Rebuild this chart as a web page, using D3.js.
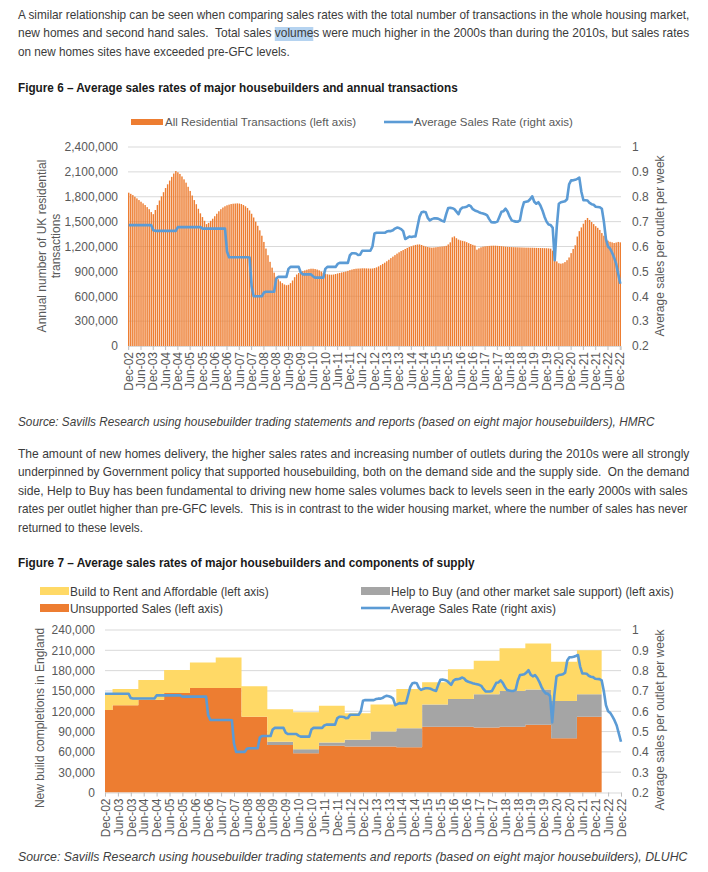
<!DOCTYPE html>
<html>
<head>
<meta charset="utf-8">
<script src="https://cdn.jsdelivr.net/npm/d3@7"></script>
<style>
  body { margin: 0; background: #fff; }
  svg text { font-family: "Liberation Sans", Arial, sans-serif; white-space: pre; }
</style>
</head>
<body>
<div id="page"></div>
<script>
// ---- data ----
var tickLabels = ["Dec-02","Jun-03","Dec-03","Jun-04","Dec-04","Jun-05","Dec-05","Jun-06","Dec-06","Jun-07",
  "Dec-07","Jun-08","Dec-08","Jun-09","Dec-09","Jun-10","Dec-10","Jun-11","Dec-11","Jun-12",
  "Dec-12","Jun-13","Dec-13","Jun-14","Dec-14","Jun-15","Dec-15","Jun-16","Dec-16","Jun-17",
  "Dec-17","Jun-18","Dec-18","Jun-19","Dec-19","Jun-20","Dec-20","Jun-21","Dec-21","Jun-22","Dec-22"];

// annual residential transactions (thousands), monthly Dec-02 .. Dec-22
var transactions = [1849,
  1835,1820,1800,1780,1760,1740,1720,1700,1675,1650,1615,1590,
  1640,1700,1755,1805,1855,1905,1950,1995,2040,2080,2110,2095,
  2075,2045,2010,1970,1920,1870,1815,1760,1710,1655,1600,1555,
  1510,1470,1485,1510,1535,1565,1595,1625,1650,1670,1685,1697,
  1705,1712,1716,1718,1720,1718,1712,1700,1685,1665,1635,1595,
  1550,1500,1450,1395,1330,1255,1175,1095,1015,945,885,835,
  805,780,758,742,733,738,758,790,830,862,880,893,
  903,912,920,927,932,932,928,922,912,898,884,872,
  865,861,860,862,868,875,881,887,892,898,906,915,
  922,928,932,934,935,937,937,936,935,934,935,940,
  948,960,975,990,1005,1022,1040,1060,1078,1096,1114,1130,
  1145,1157,1170,1183,1194,1203,1212,1219,1224,1225,1218,1208,
  1200,1194,1189,1186,1188,1191,1194,1197,1200,1203,1208,1225,
  1250,1310,1322,1300,1283,1274,1268,1262,1252,1240,1230,1220,
  1212,1162,1178,1190,1198,1202,1205,1207,1209,1210,1210,1208,
  1206,1204,1201,1198,1196,1194,1193,1192,1191,1190,1189,1188,
  1187,1186,1186,1185,1185,1184,1183,1182,1182,1181,1180,1179,
  1177,1174,1150,1060,1020,998,993,998,1012,1035,1068,1120,
  1170,1215,1320,1385,1430,1475,1520,1544,1520,1495,1470,1445,
  1425,1400,1362,1330,1290,1270,1257,1250,1242,1248,1255,1250];

// average sales per outlet per week, monthly Dec-02 .. Dec-22
var salesRate = [0.686,
  0.686,0.686,0.686,0.686,0.686,0.686,0.686,0.686,0.686,0.686,0.686,0.665,
  0.663,0.663,0.663,0.663,0.663,0.663,0.663,0.663,0.663,0.663,0.663,0.678,
  0.678,0.678,0.678,0.678,0.678,0.678,0.678,0.678,0.678,0.678,0.678,0.672,
  0.672,0.672,0.672,0.672,0.672,0.672,0.672,0.672,0.672,0.672,0.672,0.58,
  0.557,0.557,0.557,0.557,0.557,0.557,0.557,0.557,0.557,0.557,0.556,0.44,
  0.40,0.40,0.40,0.40,0.40,0.415,0.418,0.418,0.418,0.418,0.418,0.47,
  0.478,0.478,0.478,0.478,0.478,0.51,0.518,0.518,0.518,0.518,0.518,0.495,
  0.488,0.488,0.488,0.488,0.488,0.48,0.475,0.475,0.475,0.475,0.475,0.51,
  0.518,0.518,0.518,0.518,0.518,0.53,0.534,0.534,0.534,0.534,0.534,0.565,
  0.573,0.573,0.572,0.566,0.567,0.583,0.583,0.583,0.583,0.583,0.6,0.652,
  0.655,0.655,0.655,0.655,0.655,0.66,0.662,0.662,0.665,0.672,0.676,0.674,
  0.67,0.662,0.63,0.635,0.64,0.638,0.64,0.64,0.68,0.72,0.738,0.74,
  0.738,0.715,0.705,0.71,0.713,0.713,0.712,0.708,0.703,0.7,0.73,0.755,
  0.756,0.754,0.75,0.74,0.73,0.75,0.757,0.758,0.76,0.766,0.762,0.75,
  0.745,0.742,0.738,0.735,0.733,0.73,0.725,0.71,0.698,0.697,0.697,0.7,
  0.72,0.74,0.742,0.752,0.74,0.72,0.705,0.702,0.7,0.7,0.705,0.75,
  0.778,0.78,0.782,0.79,0.802,0.78,0.772,0.778,0.765,0.745,0.72,0.7,
  0.688,0.686,0.675,0.545,0.68,0.772,0.778,0.78,0.782,0.79,0.85,0.866,
  0.866,0.868,0.872,0.877,0.82,0.786,0.786,0.785,0.775,0.77,0.768,0.76,
  0.759,0.758,0.752,0.7,0.63,0.6,0.592,0.575,0.555,0.53,0.49,0.45];

// new build completions in England by financial year (thousands)
var fyLabels = ["2002/03","2003/04","2004/05","2005/06","2006/07","2007/08","2008/09","2009/10","2010/11","2011/12",
  "2012/13","2013/14","2014/15","2015/16","2016/17","2017/18","2018/19","2019/20","2020/21","2021/22"];
var unsupported = [122,129,137,147,154.5,154.5,112,70,58,69,68,68,67,97,97,96,97,100,80,112];
var helpToBuy   = [0,0,0,0,0,0,0,5,6,5,10,22,28,33,41,49,53,52,55,33];
var buildToRent = [25,24,29,34,37.5,45,45,48,54.5,54,39,40,58,33,44,49.5,63,68,58,65];

var leftTicks1 = [0,300000,600000,900000,1200000,1500000,1800000,2100000,2400000];
var leftTicks2 = [0,30000,60000,90000,120000,150000,180000,210000,240000];
var rateTicks = [0.2,0.3,0.4,0.5,0.6,0.7,0.8,0.9,1];

var para1 = [
  "A similar relationship can be seen when comparing sales rates with the total number of transactions in the whole housing market,",
  "new homes and second hand sales.  Total sales volumes were much higher in the 2000s than during the 2010s, but sales rates",
  "on new homes sites have exceeded pre-GFC levels."];
var para2 = [
  "The amount of new homes delivery, the higher sales rates and increasing number of outlets during the 2010s were all strongly",
  "underpinned by Government policy that supported housebuilding, both on the demand side and the supply side.  On the demand",
  "side, Help to Buy has been fundamental to driving new home sales volumes back to levels seen in the early 2000s with sales",
  "rates per outlet higher than pre-GFC levels.  This is in contrast to the wider housing market, where the number of sales has never",
  "returned to these levels."];

var ORANGE = "#ED7D31", BLUE = "#5B9BD5", GREY = "#A5A5A5", YELLOW = "#FFD966";
var AXIS = "#595959", GRID = "#D9D9D9", BODY = "#3b3b3b";

var svg = d3.select("#page").append("svg").attr("width", 708).attr("height", 872);
svg.append("rect").attr("width", 708).attr("height", 872).attr("fill", "#fff");

var hl = svg.append("g");

// text squeezed horizontally to a given width (the document font is narrow)
function line(x, y, str, width, opt) {
  opt = opt || {};
  var t = svg.append("text").attr("x", 0).attr("y", 0).text(str)
    .attr("font-size", opt.size || 12.5)
    .attr("fill", opt.fill || BODY);
  if (opt.weight) t.attr("font-weight", opt.weight);
  if (opt.italic) t.attr("font-style", "italic");
  var sx = width ? width / t.node().getComputedTextLength() : 1;
  t.attr("transform", "translate(" + x + "," + y + ") scale(" + sx + ",1)");
  t.sx = sx;
  return t;
}

// ---- text blocks ----
var p1w = [672, 672, 272];
var p1 = para1.map(function (s, i) { return line(18, 18.5 + i * 18.5, s, p1w[i]); });

// highlight on "volume"
var n2 = p1[1].node();
var k = para1[1].indexOf("volume");
var hx0 = 18 + n2.getStartPositionOfChar(k).x * p1[1].sx;
var hx1 = 18 + n2.getEndPositionOfChar(k + 5).x * p1[1].sx;
hl.append("rect").attr("x", hx0).attr("y", 27).attr("width", hx1 - hx0).attr("height", 14).attr("fill", "#b5d3f0");

line(18, 92, "Figure 6 \u2013 Average sales rates of major housebuilders and annual transactions", 440,
  { weight: "bold", fill: "#1a1a1a" });
line(18, 426, "Source: Savills Research using housebuilder trading statements and reports (based on eight major housebuilders), HMRC", 637,
  { italic: true, fill: "#404040" });

var p2w = [672, 672, 670, 670, 125];
para2.forEach(function (s, i) { line(18, 457.5 + i * 18.5, s, p2w[i]); });

line(18, 567, "Figure 7 \u2013 Average sales rates of major housebuilders and components of supply", 457,
  { weight: "bold", fill: "#1a1a1a" });
line(18, 861, "Source: Savills Research using housebuilder trading statements and reports (based on eight major housebuilders), DLUHC", 670,
  { italic: true, fill: "#404040" });

function fmtRate(d) { return d === 1 ? "1" : d.toFixed(1); }

function styleAxis(g) {
  g.selectAll("text").attr("fill", AXIS).attr("font-size", 12)
    .attr("font-family", "'Liberation Sans', Arial, sans-serif");
}

function xLabels(g) {
  g.select(".domain").attr("stroke", GRID);
  g.selectAll(".tick line").attr("stroke", "#BFBFBF");
  g.selectAll(".tick text")
    .attr("transform", "rotate(-90)")
    .attr("x", -6).attr("y", 0).attr("dy", "0.35em")
    .style("text-anchor", "end");
  styleAxis(g);
}

// ---- Figure 6 ----
var c1 = { left: 128, right: 621, top: 147, bottom: 346 };
var x1 = d3.scaleBand().domain(d3.range(transactions.length)).range([c1.left, c1.right]).paddingInner(0.3);
var y1L = d3.scaleLinear().domain([0, 2400000]).range([c1.bottom, c1.top]);
var y1R = d3.scaleLinear().domain([0.2, 1]).range([c1.bottom, c1.top]);

svg.append("g").selectAll("line").data(leftTicks1.slice(1)).enter().append("line")
  .attr("x1", c1.left).attr("x2", c1.right)
  .attr("y1", function (d) { return y1L(d); }).attr("y2", function (d) { return y1L(d); })
  .attr("stroke", GRID);

svg.append("g").selectAll("rect").data(transactions).enter().append("rect")
  .attr("x", function (d, i) { return x1(i); })
  .attr("y", function (d) { return y1L(d * 1000); })
  .attr("width", x1.bandwidth())
  .attr("height", function (d) { return c1.bottom - y1L(d * 1000); })
  .attr("fill", ORANGE);

svg.append("path").datum(salesRate)
  .attr("d", d3.line().x(function (d, i) { return x1(i) + x1.bandwidth() / 2; }).y(function (d) { return y1R(d); }))
  .attr("fill", "none").attr("stroke", BLUE).attr("stroke-width", 2.6).attr("stroke-linejoin", "round");

var gl1 = svg.append("g").attr("transform", "translate(" + c1.left + ",0)")
  .call(d3.axisLeft(y1L).tickValues(leftTicks1).tickSize(0).tickPadding(10).tickFormat(d3.format(",")));
gl1.select(".domain").remove(); styleAxis(gl1);

var gr1 = svg.append("g").attr("transform", "translate(" + c1.right + ",0)")
  .call(d3.axisRight(y1R).tickValues(rateTicks).tickSize(0).tickPadding(11).tickFormat(fmtRate));
gr1.select(".domain").remove(); styleAxis(gr1);

var gb1 = svg.append("g").attr("transform", "translate(0," + c1.bottom + ")")
  .call(d3.axisBottom(x1).tickValues(d3.range(0, transactions.length, 6)).tickSize(4)
    .tickFormat(function (d) { return tickLabels[d / 6]; }));
xLabels(gb1);

svg.append("text").attr("transform", "translate(46,246) rotate(-90)").attr("text-anchor", "middle")
  .attr("font-size", 12).attr("fill", AXIS).text("Annual number of UK residential");
svg.append("text").attr("transform", "translate(60,246) rotate(-90)").attr("text-anchor", "middle")
  .attr("font-size", 12).attr("fill", AXIS).text("transactions");
svg.append("text").attr("transform", "translate(664,246) rotate(-90)").attr("text-anchor", "middle")
  .attr("font-size", 12).attr("fill", AXIS).text("Average sales per outlet per week");

// legend 1
svg.append("rect").attr("x", 131).attr("y", 119).attr("width", 32).attr("height", 6).attr("fill", ORANGE);
svg.append("text").attr("x", 165).attr("y", 126).attr("font-size", 11.5).attr("fill", AXIS)
  .text("All Residential Transactions (left axis)");
svg.append("line").attr("x1", 384).attr("x2", 413).attr("y1", 122).attr("y2", 122)
  .attr("stroke", BLUE).attr("stroke-width", 2.6);
svg.append("text").attr("x", 414).attr("y", 126).attr("font-size", 11.5).attr("fill", AXIS)
  .text("Average Sales Rate (right axis)");

// ---- Figure 7 ----
var c2 = { left: 105, right: 621, top: 630, bottom: 792.5 };
var x2 = d3.scaleLinear().domain([0, salesRate.length - 1]).range([c2.left, c2.right]);
var y2L = d3.scaleLinear().domain([0, 240000]).range([c2.bottom, c2.top]);
var y2R = d3.scaleLinear().domain([0.2, 1]).range([c2.bottom, c2.top]);

svg.append("g").selectAll("line").data(leftTicks2.slice(1)).enter().append("line")
  .attr("x1", c2.left).attr("x2", c2.right)
  .attr("y1", function (d) { return y2L(d); }).attr("y2", function (d) { return y2L(d); })
  .attr("stroke", GRID);

var fyRows = fyLabels.map(function (f, i) {
  return { fy: f, unsupported: unsupported[i], helpToBuy: helpToBuy[i], buildToRent: buildToRent[i] };
});
var lastMonth = 231; // Mar-22
function fyStart(i) { return i === 0 ? 0 : 12 * i - 8.5; }
function fyEnd(i) { return Math.min(12 * i + 3.5, lastMonth); }

var stack = d3.stack().keys(["unsupported", "helpToBuy", "buildToRent"])(fyRows);
var areaColors = [ORANGE, GREY, YELLOW];
var area2 = d3.area().x(function (d) { return x2(d.m); })
  .y0(function (d) { return y2L(d.v0 * 1000); }).y1(function (d) { return y2L(d.v1 * 1000); });

stack.forEach(function (layer, li) {
  var pts = [];
  layer.forEach(function (d, i) {
    pts.push({ m: fyStart(i), v0: d[0], v1: d[1] });
    pts.push({ m: fyEnd(i), v0: d[0], v1: d[1] });
  });
  svg.append("path").datum(pts).attr("d", area2).attr("fill", areaColors[li]);
});

svg.append("path").datum(salesRate)
  .attr("d", d3.line().x(function (d, i) { return x2(i); }).y(function (d) { return y2R(d); }))
  .attr("fill", "none").attr("stroke", BLUE).attr("stroke-width", 2.6).attr("stroke-linejoin", "round");

var gl2 = svg.append("g").attr("transform", "translate(" + c2.left + ",0)")
  .call(d3.axisLeft(y2L).tickValues(leftTicks2).tickSize(0).tickPadding(10).tickFormat(d3.format(",")));
gl2.select(".domain").remove(); styleAxis(gl2);

var gr2 = svg.append("g").attr("transform", "translate(" + c2.right + ",0)")
  .call(d3.axisRight(y2R).tickValues(rateTicks).tickSize(0).tickPadding(11).tickFormat(fmtRate));
gr2.select(".domain").remove(); styleAxis(gr2);

var gb2 = svg.append("g").attr("transform", "translate(0," + c2.bottom + ")")
  .call(d3.axisBottom(x2).tickValues(d3.range(0, salesRate.length, 6)).tickSize(4)
    .tickFormat(function (d) { return tickLabels[d / 6]; }));
xLabels(gb2);

svg.append("text").attr("transform", "translate(44,718) rotate(-90)").attr("text-anchor", "middle")
  .attr("font-size", 12).attr("fill", AXIS).text("New build completions in England");
svg.append("text").attr("transform", "translate(664,720) rotate(-90)").attr("text-anchor", "middle")
  .attr("font-size", 12).attr("fill", AXIS).text("Average sales per outlet per week");

// legend 2
var lg = [
  { x: 40, y: 591, c: YELLOW, t: "Build to Rent and Affordable (left axis)", w: 199 },
  { x: 361, y: 591, c: GREY, t: "Help to Buy (and other market sale support) (left axis)", w: 283 },
  { x: 40, y: 608, c: ORANGE, t: "Unsupported Sales (left axis)", w: 153 },
  { x: 361, y: 608, c: BLUE, t: "Average Sales Rate (right axis)", w: 165, line: true }];
lg.forEach(function (d) {
  if (d.line) {
    svg.append("line").attr("x1", d.x).attr("x2", d.x + 29).attr("y1", d.y).attr("y2", d.y)
      .attr("stroke", d.c).attr("stroke-width", 2.6);
  } else {
    svg.append("rect").attr("x", d.x).attr("y", d.y - 4).attr("width", 29).attr("height", 8).attr("fill", d.c);
  }
  line(d.x + 30, d.y + 4.5, d.t, d.w, { fill: BODY });
});
</script>
</body>
</html>
